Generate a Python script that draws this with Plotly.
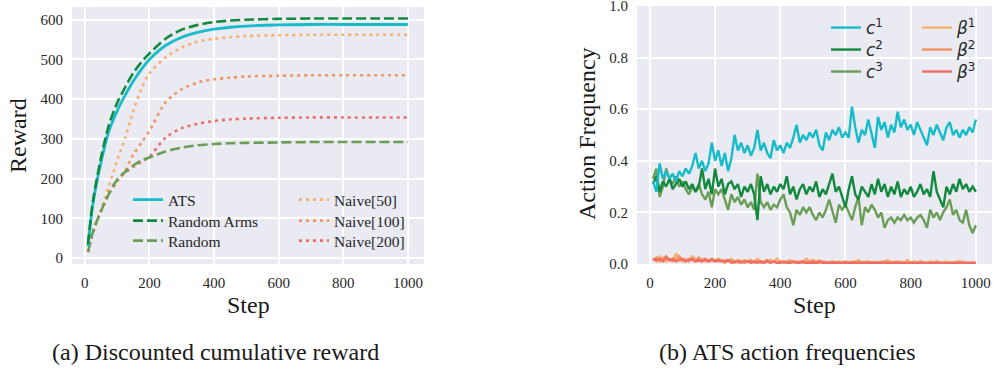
import plotly.graph_objects as go

W, H = 993, 371

# ---------------- Data: left panel (discounted cumulative reward) ----------------
steps_a = [10, 25, 50, 75, 100, 125, 150, 175, 200, 250, 300, 350, 400, 450, 500, 600, 700, 800, 900, 1000]
ats = [30, 135, 240, 320, 370, 410, 445, 475, 500, 535, 556, 568, 576, 581, 584, 587, 588, 588, 588, 588]
random_arms = [35, 142, 252, 336, 390, 430, 466, 493, 515, 552, 575, 587, 594, 598, 600, 602, 603, 603, 603, 603]
random_ = [15, 65, 118, 162, 197, 217, 233, 245, 253, 268, 278, 284, 287, 289, 290, 291, 292, 292, 292, 292]
naive50 = [15, 62, 120, 182, 245, 302, 370, 425, 465, 505, 530, 545, 552, 556, 559, 561, 562, 562, 562, 562]
naive100 = [15, 65, 118, 162, 192, 220, 260, 290, 320, 392, 425, 442, 450, 454, 457, 459, 460, 460, 460, 460]
naive200 = [15, 65, 118, 162, 196, 215, 230, 242, 255, 303, 327, 338, 345, 349, 351, 353, 354, 354, 354, 354]

# ---------------- Data: right panel (ATS action frequencies) ----------------
steps_b = list(range(10, 1001, 10))
c1 = [0.32, 0.28, 0.39, 0.33, 0.36, 0.33, 0.35, 0.32, 0.36, 0.34,
      0.37, 0.35, 0.38, 0.43, 0.37, 0.40, 0.36, 0.39, 0.47, 0.40,
      0.44, 0.38, 0.43, 0.36, 0.41, 0.50, 0.44, 0.47, 0.43, 0.46,
      0.42, 0.45, 0.52, 0.44, 0.47, 0.43, 0.41, 0.48, 0.44, 0.46,
      0.43, 0.47, 0.45, 0.49, 0.54, 0.47, 0.50, 0.48, 0.51, 0.49,
      0.52, 0.46, 0.44, 0.51, 0.48, 0.52, 0.50, 0.53, 0.49, 0.51,
      0.49, 0.61, 0.53, 0.47, 0.52, 0.50, 0.56, 0.51, 0.45, 0.57,
      0.52, 0.55, 0.49, 0.54, 0.51, 0.59, 0.53, 0.56, 0.52, 0.54,
      0.50, 0.55, 0.52, 0.49, 0.46, 0.53, 0.50, 0.54, 0.51, 0.48,
      0.53, 0.55, 0.50, 0.52, 0.49, 0.52, 0.50, 0.53, 0.51, 0.56]
c2 = [0.31, 0.34, 0.28, 0.32, 0.30, 0.33, 0.29, 0.31, 0.33, 0.30,
      0.32, 0.29, 0.31, 0.28, 0.30, 0.37, 0.29, 0.33, 0.27, 0.37,
      0.30, 0.33, 0.27, 0.31, 0.32, 0.29, 0.31, 0.26, 0.30, 0.28,
      0.31, 0.27, 0.17, 0.34, 0.28, 0.31, 0.27, 0.30, 0.28, 0.31,
      0.29, 0.34, 0.27, 0.30, 0.25, 0.29, 0.31, 0.27, 0.30, 0.28,
      0.32, 0.26, 0.29, 0.27, 0.31, 0.35, 0.28, 0.30, 0.26, 0.22,
      0.29, 0.34, 0.27, 0.25, 0.30, 0.28, 0.26, 0.31, 0.27, 0.33,
      0.28, 0.31, 0.26, 0.30, 0.27, 0.32, 0.26, 0.29, 0.27, 0.30,
      0.26, 0.28, 0.31, 0.27, 0.29, 0.26, 0.36, 0.28, 0.25, 0.22,
      0.30, 0.27, 0.31, 0.28, 0.33, 0.29, 0.31, 0.28, 0.30, 0.28]
c3 = [0.33, 0.37, 0.26, 0.30, 0.37, 0.33, 0.31, 0.34, 0.30, 0.32,
      0.29, 0.27, 0.30, 0.28, 0.31, 0.27, 0.25, 0.28, 0.22, 0.29,
      0.27, 0.29, 0.25, 0.21, 0.27, 0.24, 0.26, 0.23, 0.25, 0.22,
      0.24, 0.21, 0.35, 0.24, 0.22, 0.24, 0.21, 0.23, 0.22, 0.25,
      0.27, 0.22, 0.20, 0.15, 0.21, 0.19, 0.22, 0.20, 0.22, 0.19,
      0.17, 0.20, 0.18, 0.21, 0.25, 0.20, 0.16, 0.23, 0.21, 0.23,
      0.20, 0.17, 0.22, 0.26, 0.15, 0.22, 0.20, 0.23, 0.21, 0.18,
      0.20, 0.14, 0.17, 0.18, 0.16, 0.18, 0.17, 0.19, 0.17, 0.18,
      0.16, 0.18, 0.19, 0.17, 0.14, 0.21, 0.18, 0.20, 0.17, 0.20,
      0.22, 0.25, 0.19, 0.21, 0.17, 0.16, 0.21, 0.15, 0.12, 0.15]
b1 = [0.020, 0.010, 0.030, 0.020, 0.010, 0.020, 0.015, 0.040, 0.020, 0.010,
      0.020, 0.010, 0.030, 0.020, 0.010, 0.020, 0.010, 0.015, 0.020, 0.010,
      0.020, 0.010, 0.015, 0.010, 0.020, 0.010, 0.005, 0.010, 0.015, 0.010,
      0.005, 0.010, 0.020, 0.010, 0.005, 0.010, 0.015, 0.010, 0.020, 0.010,
      0.005, 0.010, 0.015, 0.005, 0.010, 0.005, 0.010, 0.020, 0.010, 0.005,
      0.010, 0.015, 0.005, 0.010, 0.005, 0.010, 0.005, 0.010, 0.005, 0.010,
      0.005, 0.010, 0.005, 0.015, 0.005, 0.010, 0.005, 0.005, 0.010, 0.005,
      0.010, 0.005, 0.015, 0.005, 0.010, 0.005, 0.010, 0.005, 0.015, 0.005,
      0.010, 0.005, 0.010, 0.005, 0.005, 0.010, 0.005, 0.010, 0.005, 0.005,
      0.010, 0.005, 0.005, 0.010, 0.005, 0.010, 0.005, 0.005, 0.005, 0.005]
b2 = [0.015, 0.025, 0.010, 0.020, 0.030, 0.015, 0.010, 0.020, 0.030, 0.015,
      0.010, 0.020, 0.015, 0.010, 0.025, 0.010, 0.015, 0.010, 0.020, 0.015,
      0.010, 0.015, 0.005, 0.015, 0.010, 0.005, 0.015, 0.010, 0.005, 0.010,
      0.015, 0.005, 0.010, 0.005, 0.010, 0.015, 0.005, 0.010, 0.005, 0.010,
      0.005, 0.010, 0.005, 0.010, 0.005, 0.010, 0.005, 0.005, 0.010, 0.015,
      0.005, 0.005, 0.010, 0.005, 0.005, 0.010, 0.005, 0.005, 0.005, 0.010,
      0.005, 0.005, 0.010, 0.005, 0.005, 0.005, 0.010, 0.005, 0.005, 0.005,
      0.005, 0.010, 0.005, 0.005, 0.005, 0.010, 0.005, 0.005, 0.005, 0.005,
      0.005, 0.005, 0.010, 0.005, 0.005, 0.005, 0.005, 0.010, 0.005, 0.005,
      0.005, 0.005, 0.005, 0.005, 0.010, 0.005, 0.005, 0.005, 0.005, 0.005]
b3 = [0.020, 0.015, 0.020, 0.010, 0.025, 0.015, 0.020, 0.010, 0.015, 0.020,
      0.010, 0.015, 0.020, 0.010, 0.015, 0.010, 0.020, 0.010, 0.015, 0.010,
      0.015, 0.010, 0.010, 0.015, 0.005, 0.010, 0.010, 0.005, 0.010, 0.010,
      0.005, 0.010, 0.005, 0.010, 0.005, 0.010, 0.005, 0.010, 0.005, 0.005,
      0.010, 0.005, 0.005, 0.010, 0.005, 0.005, 0.010, 0.005, 0.005, 0.005,
      0.005, 0.010, 0.005, 0.005, 0.005, 0.005, 0.005, 0.005, 0.003, 0.005,
      0.005, 0.003, 0.005, 0.005, 0.003, 0.005, 0.003, 0.003, 0.005, 0.003,
      0.003, 0.005, 0.003, 0.003, 0.003, 0.005, 0.003, 0.003, 0.003, 0.003,
      0.003, 0.003, 0.005, 0.003, 0.003, 0.003, 0.003, 0.003, 0.003, 0.003,
      0.003, 0.003, 0.003, 0.003, 0.003, 0.003, 0.003, 0.003, 0.003, 0.003]

x_ticks_a = [0, 200, 400, 600, 800, 1000]
y_ticks_a = [0, 100, 200, 300, 400, 500, 600]
y_ticks_b = [0.0, 0.2, 0.4, 0.6, 0.8, 1.0]

# colours
C_CYAN = "#17bccb"
C_DGREEN = "#12893f"
C_LGREEN = "#6a9e56"
C_LORANGE = "#f4b06c"
C_ORANGE = "#f39262"
C_RED = "#ef6d64"

SERIF = "Liberation Serif"
SANS = "DejaVu Sans"
TXT = "#262626"
fig = go.Figure()

def px_x(p):
    return p / W

def px_y(p):
    return 1 - p / H

legends = {}

def add_legend(key, xpx, ypx, family, size):
    legends[key] = dict(x=px_x(xpx), y=px_y(ypx), xanchor="left", yanchor="middle",
                        bgcolor="rgba(0,0,0,0)", borderwidth=0, itemwidth=30, visible=True,
                        font=dict(family=family, size=size, color=TXT))

def lw(name, y, color, dash, legend, width):
    fig.add_trace(go.Scatter(
        x=steps_a, y=y, name=name, mode="lines", xaxis="x", yaxis="y", showlegend=True,
        line=dict(color=color, width=width, dash=dash, shape="spline", smoothing=0.8),
        legend=legend))

# left panel: draw order (back to front)
lw("Naive[50]", naive50, C_LORANGE, "3px,4px", "legend4", 2.6)
lw("Naive[100]", naive100, C_ORANGE, "3px,4px", "legend5", 2.6)
lw("Naive[200]", naive200, C_RED, "3px,4px", "legend6", 2.6)
lw("Random", random_, C_LGREEN, "10px,4px", "legend3", 2.6)
lw("ATS", ats, C_CYAN, "solid", "legend", 2.8)
lw("Random Arms", random_arms, C_DGREEN, "10px,4px", "legend2", 2.6)

LX1, LX2 = 128, 294
LROWS = [200, 221, 241]
for i, key in enumerate(["legend", "legend2", "legend3"]):
    add_legend(key, LX1, LROWS[i], SERIF, 15.5)
for i, key in enumerate(["legend4", "legend5", "legend6"]):
    add_legend(key, LX2, LROWS[i], SERIF, 15.5)

def rw(name, y, color, legend):
    fig.add_trace(go.Scatter(
        x=steps_b, y=y, name=name, mode="lines", xaxis="x2", yaxis="y2", showlegend=True,
        line=dict(color=color, width=2.4), legend=legend))

rw("<i>β</i><sup>1</sup>", b1, C_LORANGE, "legend10")
rw("<i>β</i><sup>2</sup>", b2, C_ORANGE, "legend11")
rw("<i>β</i><sup>3</sup>", b3, C_RED, "legend12")
rw("<i>c</i><sup>3</sup>", c3, C_LGREEN, "legend9")
rw("<i>c</i><sup>2</sup>", c2, C_DGREEN, "legend8")
rw("<i>c</i><sup>1</sup>", c1, C_CYAN, "legend7")

RX1, RX2 = 826, 917
RROWS = [28, 50, 72]
for i, key in enumerate(["legend7", "legend8", "legend9"]):
    add_legend(key, RX1, RROWS[i], SANS, 17)
for i, key in enumerate(["legend10", "legend11", "legend12"]):
    add_legend(key, RX2, RROWS[i], SANS, 17)

axis_common = dict(showgrid=True, gridcolor="white", gridwidth=1.6, zeroline=False,
                   showline=False, ticks="", ticklabeloverflow="allow", automargin=False,
                   tickfont=dict(family=SERIF, size=15, color=TXT),
                   ticklabelstandoff=8)

fig.update_layout(
    width=W, height=H, margin=dict(l=0, r=0, t=0, b=0, autoexpand=False),
    showlegend=True,
    font=dict(family=SERIF, size=15, color=TXT),
    paper_bgcolor="white", plot_bgcolor="#EAEAF2",
    xaxis=dict(domain=[px_x(72), px_x(424)], range=[-39.5, 1049.5], anchor="y",
               tickvals=x_ticks_a, ticktext=[str(v) for v in x_ticks_a], **axis_common),
    yaxis=dict(domain=[px_y(264), px_y(7)], range=[-15, 632], anchor="x",
               tickvals=y_ticks_a, ticktext=[str(v) for v in y_ticks_a], **axis_common),
    xaxis2=dict(domain=[px_x(637), px_x(992)], range=[-39.5, 1049.5], anchor="y2",
                tickvals=x_ticks_a, ticktext=[str(v) for v in x_ticks_a], **axis_common),
    yaxis2=dict(domain=[px_y(264), px_y(6)], range=[0, 1], anchor="x2",
                tickvals=y_ticks_b, ticktext=["%.1f" % v for v in y_ticks_b], **axis_common),
    **legends,
)

ann = [
    dict(text="Reward", x=px_x(18), y=px_y(136), textangle=-90, size=24),
    dict(text="Step", x=px_x(248), y=px_y(305), textangle=0, size=24),
    dict(text="Action Frequency", x=px_x(587), y=px_y(134), textangle=-90, size=24),
    dict(text="Step", x=px_x(814), y=px_y(305), textangle=0, size=24),
    dict(text="(a) Discounted cumulative reward", x=px_x(215), y=px_y(352), textangle=0, size=24),
    dict(text="(b) ATS action frequencies", x=px_x(787), y=px_y(352), textangle=0, size=24),
]
for a in ann:
    fig.add_annotation(text=a["text"], x=a["x"], y=a["y"], xref="paper", yref="paper",
                       xanchor="center", yanchor="middle", showarrow=False, textangle=a["textangle"],
                       font=dict(family=SERIF, size=a["size"], color="#1a1a1a"))

fig.write_html("out.html", config={"displayModeBar": False},
               post_script="document.body.style.margin='0px';document.body.style.overflow='hidden';")
